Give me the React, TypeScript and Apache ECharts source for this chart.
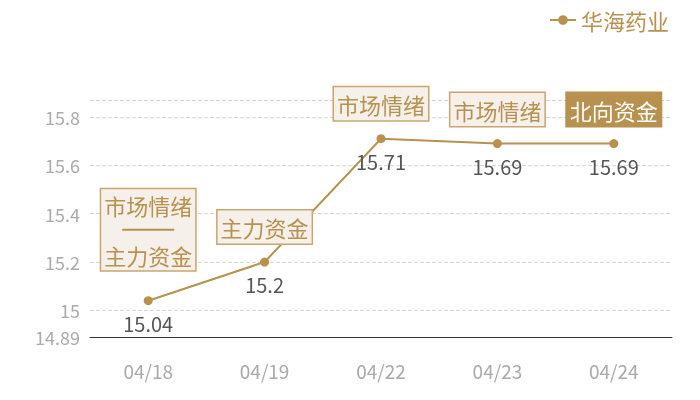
import { useEffect, useRef } from "react";
import * as echarts from "echarts";

const dates = ["04/18", "04/19", "04/22", "04/23", "04/24"];
const prices = [15.04, 15.2, 15.71, 15.69, 15.69];
const tags = ["{t|市场情绪}\n{s| }\n{t|主力资金}", "主力资金", "市场情绪", "市场情绪", "北向资金"];
const tagGap = [30, 18, 18, 17, 17];
const filledTag = [false, false, false, false, true];

const gold = "#b8914f";
const font = "Noto Sans CJK SC";

export default function App() {
  const ref = useRef<HTMLDivElement>(null);

  useEffect(() => {
    if (!ref.current) return;
    const chart = echarts.init(ref.current, null, { renderer: "svg" });

    chart.setOption({
      animation: false,
      textStyle: { fontFamily: font },
      legend: {
        data: ["华海药业"],
        top: 4,
        right: 26,
        itemWidth: 26,
        itemHeight: 12,
        itemGap: 6,
        textStyle: { color: gold, fontSize: 22, fontFamily: font },
      },
      grid: { left: 90, right: 28, top: 100, bottom: 63 },
      xAxis: {
        type: "category",
        data: dates,
        axisLine: { lineStyle: { color: "#333", width: 1 } },
        axisTick: { show: false },
        axisLabel: { color: "#aaa", fontSize: 19, margin: 24, fontFamily: font },
      },
      yAxis: {
        type: "value",
        min: 14.89,
        max: 15.87,
        axisLine: { show: false },
        axisTick: { show: false },
        axisLabel: {
          color: "#aaa",
          fontSize: 18,
          margin: 10,
          showMaxLabel: false,
          fontFamily: font,
        },
        splitLine: { lineStyle: { color: "#d5d5d5", type: "dashed" } },
      },
      series: [
        {
          name: "华海药业",
          type: "line",
          data: prices,
          symbol: "circle",
          symbolSize: 9,
          itemStyle: { color: gold },
          lineStyle: { color: gold, width: 2 },
          label: {
            show: true,
            position: "bottom",
            distance: 8,
            color: "#555",
            fontSize: 20,
            fontFamily: font,
          },
          markPoint: {
            symbol: "circle",
            symbolSize: 1,
            itemStyle: { color: "transparent" },
            data: dates.map((d, i) => ({
              coord: [d, prices[i]],
              value: tags[i],
              label: {
                show: true,
                position: "top",
                distance: tagGap[i],
                formatter: tags[i],
                fontSize: 22,
                lineHeight: i === 0 ? 25 : 27,
                fontFamily: font,
                color: filledTag[i] ? "#fff" : gold,
                backgroundColor: filledTag[i] ? gold : "#f5f0ea",
                borderColor: filledTag[i] ? gold : "#c9a66f",
                borderWidth: 1.5,
                padding: [3, 3, 3, 3],
                rich: {
                  t: { fontSize: 22, lineHeight: 25, color: gold, fontFamily: font },
                  s: {
                    width: 52,
                    height: 2,
                    lineHeight: 25,
                    fontSize: 2,
                    backgroundColor: gold,
                  },
                },
              },
            })),
          },
        },
      ],
    });

    return () => chart.dispose();
  }, []);

  return (
    <div
      ref={ref}
      style={{ position: "fixed", left: 0, top: 0, width: 700, height: 400 }}
    />
  );
}
